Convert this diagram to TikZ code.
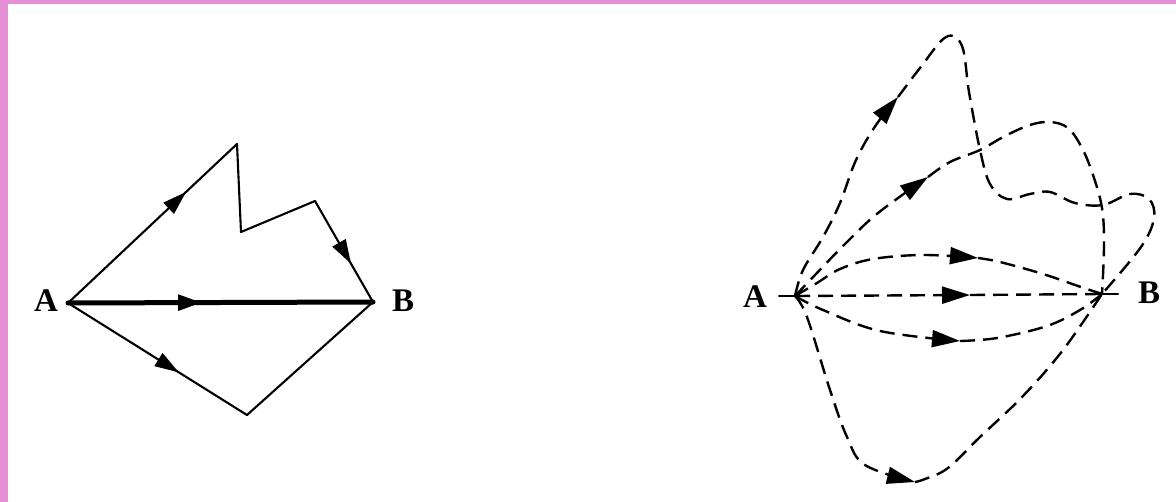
\documentclass[tikz,border=0pt]{standalone}
\usepackage{fontspec}
\setmainfont{Liberation Serif}
\usetikzlibrary{arrows.meta,decorations.markings}
\definecolor{pinkframe}{RGB}{228,143,214}
\begin{document}
\begin{tikzpicture}[x=0.5pt,y=-0.5pt,
  lbl/.style={font=\fontsize{16.5}{16.5}\selectfont\bfseries, inner sep=0pt},
  solidln/.style={line width=1.05pt, line cap=round, line join=round},
  thickln/.style={line width=2.5pt, line cap=round},
  dashln/.style={line width=1.2pt, dash pattern=on 7.5pt off 4pt},
  tipR/.style={-{Triangle[length=14pt,width=8.5pt]}},
  midarrow/.style={postaction={decorate,decoration={markings,
     mark=at position #1 with {\arrow{Triangle[length=12pt,width=7.5pt]}}}}},
  smoothplot/.style={smooth, tension=0.6}
]
% background and frame
\fill[white] (0,0) rectangle (1176,502);
\useasboundingbox (0,0) rectangle (1176,502);
\fill[pinkframe] (0,0) rectangle (8,502);
\fill[pinkframe] (0,0) rectangle (1176,4);

% ---------------- left diagram ----------------
\coordinate (A1) at (68,303);
\coordinate (B1) at (373,302);
\coordinate (P)  at (237,144);
\coordinate (N)  at (241,232);
\coordinate (C)  at (315,201);
\coordinate (D)  at (247,415);
\node[lbl] (lA1) at (46,301) {A};
\node[lbl] (lB1) at (403,301) {B};

\draw[solidln, midarrow=0.7] (A1) -- (P);
\draw[solidln] (P) -- (N) -- (C);
\draw[solidln, midarrow=0.62] (C) -- (B1);
\draw[thickln, midarrow=0.44] (A1) -- (B1);
\draw[solidln, midarrow=0.62] (A1) -- (D);
\draw[solidln] (D) -- (B1);

% ---------------- right diagram ----------------
\coordinate (A2) at (795,296);
\coordinate (B2) at (1102,294);
\coordinate (A2t) at (779,296);
\coordinate (B2t) at (1118,294);
\node[lbl] (lA2) at (755,297) {A};
\node[lbl] (lB2) at (1149,293) {B};
\draw[solidln] (A2t) -- (A2);
\draw[solidln] (B2) -- (B2t);

% arrow tips
\coordinate (T1) at (898,97);
\coordinate (T2) at (928,177);
\coordinate (T3) at (978,258);
\coordinate (T4) at (970,295);
\coordinate (T5) at (960,341);
\coordinate (T6) at (915,482);

% path 1: high peak, wiggle, loop
\draw[dashln, tipR] plot[smoothplot] coordinates {(A2) (803,270) (823,237) (840,203) (856,160) (876,125) (T1)};
\draw[dashln] plot[smoothplot] coordinates {(T1) (920,68) (946,37) (962,46) (969,92) (980,150) (990,184) (1007,199) (1030,194) (1050,192) (1075,203) (1103,205) (1130,194) (1149,199) (1154,218) (1141,247) (B2)};

% path 2: through both crossings, then straight down
\draw[dashln, tipR] plot[smoothplot] coordinates {(A2) (815,275) (845,244) (878,213) (T2)};
\draw[dashln] plot[smoothplot] coordinates {(T2) (950,162) (980,150) (1005,136) (1030,125) (1050,122) (1068,128) (1082,148) (1093,175) (1102,208) (1104,245) (B2)};

% upper arc
\draw[dashln, tipR] plot[smoothplot] coordinates {(A2) (817,283) (840,269) (873,259) (923,255) (T3)};
\draw[dashln] plot[smoothplot] coordinates {(T3) (1000,262) (1043,274) (1078,286) (B2)};

% straight
\draw[dashln, tipR] (A2) -- (T4);
\draw[dashln] (T4) -- (B2);

% lower arc
\draw[dashln, tipR] plot[smoothplot] coordinates {(A2) (823,310) (880,331) (T5)};
\draw[dashln] plot[smoothplot] coordinates {(T5) (997,338) (1047,326) (1080,310) (B2)};

% bottom loop
\draw[dashln, tipR] plot[smoothplot] coordinates {(A2) (807,317) (830,390) (847,437) (865,465) (T6)};
\draw[dashln] plot[smoothplot] coordinates {(T6) (925,479) (948,468) (980,437) (1023,396) (1063,350) (B2)};
\end{tikzpicture}
\end{document}
